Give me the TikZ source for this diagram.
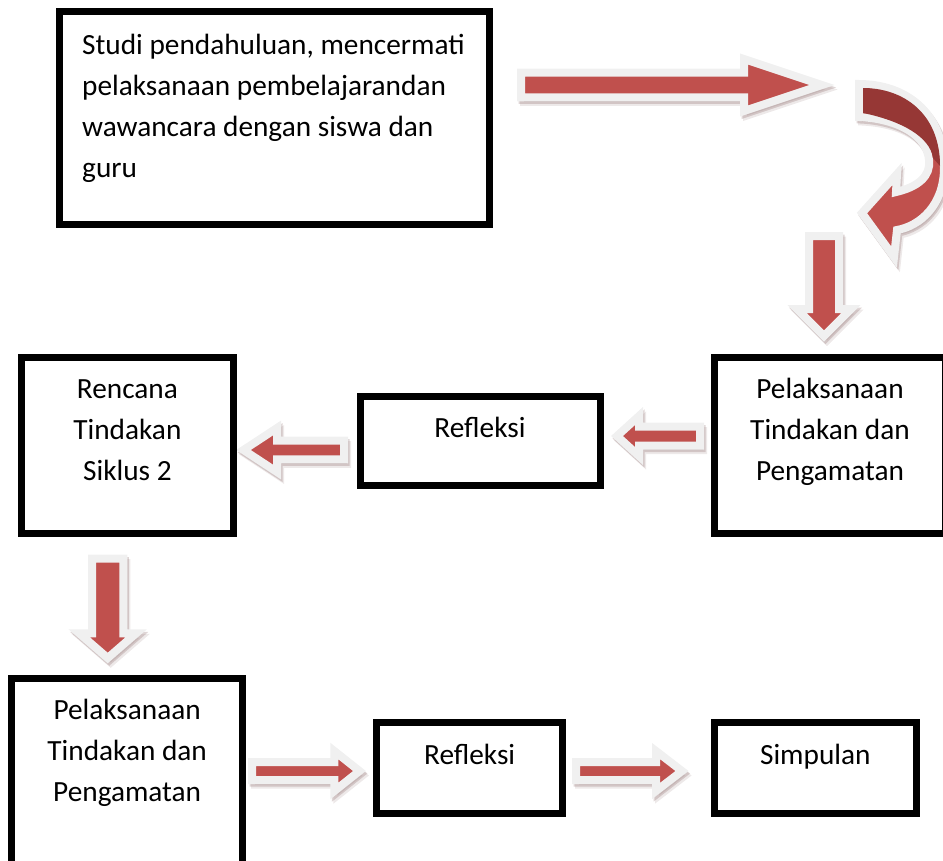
\documentclass[tikz,border=0pt]{standalone}
\usepackage{fontspec}
\setmainfont{Carlito}
\definecolor{arrred}{RGB}{192,80,77}
\definecolor{arrdark}{RGB}{150,55,53}
\definecolor{arrgray}{RGB}{240,240,240}
\definecolor{shadowc}{RGB}{110,70,70}
\tikzset{
  boxnode/.style={draw=black, line width=7pt, rectangle, inner sep=0pt},
  lbl/.style={font=\fontsize{29.3}{41}\selectfont, inner sep=0pt, align=center, anchor=base},
  blockarrow/.style={fill=arrred, draw=arrgray, line width=8pt, line join=miter},
  shadowfill/.style={fill=shadowc, draw=shadowc, line width=8pt, line join=miter},
}
% horizontal block arrow: tail x, tip x, y, shaft half, head half, head base x
\newcommand\harr[6]{%
  \foreach \sx/\sy/\op in {1.5/2.5/0.22, 3/4.5/0.12}{%
    \path[shadowfill, opacity=\op, shift={(\sx,\sy)}] (#1,{#3-#4}) -- (#6,{#3-#4}) -- (#6,{#3-#5}) -- (#2,#3) -- (#6,{#3+#5}) -- (#6,{#3+#4}) -- (#1,{#3+#4}) -- cycle;}
  \path[blockarrow] (#1,{#3-#4}) -- (#6,{#3-#4}) -- (#6,{#3-#5}) -- (#2,#3) -- (#6,{#3+#5}) -- (#6,{#3+#4}) -- (#1,{#3+#4}) -- cycle;}
% vertical block arrow: x, tail y, tip y, shaft half, head half, head base y
\newcommand\varr[6]{%
  \foreach \sx/\sy/\op in {1.5/2.5/0.22, 3/4.5/0.12}{%
    \path[shadowfill, opacity=\op, shift={(\sx,\sy)}] ({#1-#4},#2) -- ({#1-#4},#6) -- ({#1-#5},#6) -- (#1,#3) -- ({#1+#5},#6) -- ({#1+#4},#6) -- ({#1+#4},#2) -- cycle;}
  \path[blockarrow] ({#1-#4},#2) -- ({#1-#4},#6) -- ({#1-#5},#6) -- (#1,#3) -- ({#1+#5},#6) -- ({#1+#4},#6) -- ({#1+#4},#2) -- cycle;}
\newcommand\curvpath{(859,84) .. controls (905,84) and (944,112) .. (944,168) .. controls (944,205) and (920,226) .. (897,230) -- (894,257) -- (862,213) -- (897,174) -- (896,192) .. controls (918,187) and (931,176) .. (929,160) .. controls (927,136) and (900,119) .. (859,117) -- cycle}
\begin{document}
\begin{tikzpicture}[x=1pt, y=-1pt]
\useasboundingbox (0,0) rectangle (943,860);
\clip (0,0) rectangle (943,860);

% block arrows
\harr{521}{822}{85}{12.3}{26}{744}
\varr{824}{236}{336}{15}{27}{309}
\harr{344}{243.5}{450}{9.3}{22}{277}
\harr{700}{617}{436}{9.5}{20}{639}
\varr{107.7}{558.7}{658}{15.7}{28.5}{633.3}
\harr{252}{359.5}{771}{9}{20}{334.3}
\harr{576}{682}{771}{9}{20}{656}

% curved arrow
\foreach \sx/\sy/\op in {1.5/2.5/0.22, 3/4.5/0.12}{%
  \path[shadowfill, opacity=\op, shift={(\sx,\sy)}] \curvpath;}
\path[blockarrow] \curvpath;
\fill[arrdark] (863,88) .. controls (903,88) and (940,113) .. (940,166) -- (933,158) .. controls (930,137) and (902,121) .. (863,113) -- cycle;

% boxes
\node[boxnode, minimum width=430pt, minimum height=213pt] (b0) at (274.5,118) {};
\node[boxnode, minimum width=212.8pt, minimum height=176.8pt] (b1) at (127.4,445.4) {};
\node[boxnode, minimum width=240pt, minimum height=89.5pt] (b2) at (480,441.05) {};
\node[boxnode, minimum width=231.6pt, minimum height=176.8pt] (b3) at (830,445.4) {};
\node[boxnode, minimum width=230.7pt, minimum height=186.5pt] (b4) at (127.15,771.75) {};
\node[boxnode, minimum width=185.7pt, minimum height=90.4pt] (b5) at (469.65,768) {};
\node[boxnode, minimum width=202.3pt, minimum height=90.4pt] (b6) at (815.35,768) {};

% texts (base anchor = baseline of the last line)
\node[lbl, align=left, anchor=base west] (t0) at (82,177) {Studi pendahuluan, mencermati\\pelaksanaan pembelajarandan\\wawancara dengan siswa dan\\guru};
\node[lbl] (t1) at (127.4,480) {Rencana\\Tindakan\\Siklus 2};
\node[lbl] (t2) at (480,437) {Refleksi};
\node[lbl] (t3) at (830,480) {Pelaksanaan\\Tindakan dan\\Pengamatan};
\node[lbl] (t4) at (127.15,801.5) {Pelaksanaan\\Tindakan dan\\Pengamatan};
\node[lbl] (t5) at (469.65,764) {Refleksi};
\node[lbl] (t6) at (815.35,764) {Simpulan};
\end{tikzpicture}
\end{document}
